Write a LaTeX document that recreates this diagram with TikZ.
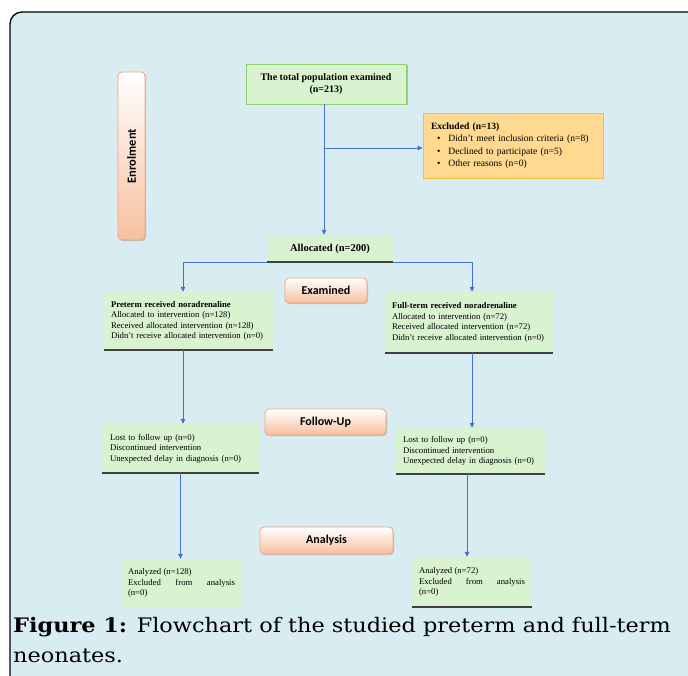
\documentclass[tikz,border=0pt]{standalone}
\usepackage{fontspec}
\setmainfont{Liberation Serif}
\newfontfamily\secfont{Carlito}
\newfontfamily\capfont[FakeStretch=1.12]{DejaVu Serif}
\usetikzlibrary{shadows,arrows.meta}
\definecolor{bgblue}{RGB}{216,236,241}
\definecolor{boxgreen}{RGB}{217,242,208}
\definecolor{greenborder}{RGB}{140,210,110}
\definecolor{exclfill}{RGB}{255,217,143}
\definecolor{exclborder}{RGB}{245,190,60}
\definecolor{peach}{RGB}{247,192,160}
\definecolor{peachborder}{RGB}{238,165,120}
\definecolor{linkblue}{RGB}{68,114,196}
\definecolor{darkline}{RGB}{64,64,64}
\tikzset{
  greenbox/.style={fill=boxgreen, inner ysep=0pt, align=left, font=\fontsize{8.7}{10.6}\selectfont},
  secbox/.style={draw=peachborder, line width=0.8pt, rounded corners=4pt, top color=white, bottom color=peach,
     drop shadow={shadow xshift=1pt, shadow yshift=-1.2pt, fill=gray!60, opacity=0.7},
     font=\secfont\bfseries\fontsize{12}{14}\selectfont, inner sep=0pt},
  arr/.style={draw=linkblue, line width=0.8pt, -{Triangle[length=5pt,width=4.5pt]}},
  baseline/.style={draw=darkline, line width=1.6pt},
}
\begin{document}
\begin{tikzpicture}[x=1pt,y=-1pt]
\useasboundingbox (0,0) rectangle (688,676);
\fill[white] (0,0) rectangle (688,676);
\fill[bgblue, rounded corners=12pt] (10,700) -- (10,12) -- (700,12) -- (700,700) -- cycle;
\draw[black, line width=1.3pt, rounded corners=12pt] (10,700) -- (10,12) -- (700,12);

% section labels
\node[secbox, minimum width=27pt, minimum height=168pt] (enrol) at (131.5,156) {};
\node[rotate=90, font=\secfont\bfseries\fontsize{12.5}{14}\selectfont] (enroltxt) at (enrol.center) {Enrolment};
\node[secbox, minimum width=82pt, minimum height=25pt] (exam) at (326,290.5) {Examined};
\node[secbox, minimum width=121pt, minimum height=26pt] (follow) at (325.5,422) {Follow-Up};
\node[secbox, minimum width=133pt, minimum height=27pt] (analysis) at (326.5,540.5) {Analysis};

% boxes
\node[greenbox, draw=greenborder, line width=0.8pt, align=center, font=\bfseries\fontsize{10}{12.5}\selectfont,
      minimum width=160pt, minimum height=40pt,
      drop shadow={shadow xshift=1.5pt, shadow yshift=-1.5pt, fill=gray!70, opacity=0.8}] (total) at (326,84)
      {The total population examined\\(n=213)};
\node[fill=exclfill, draw=exclborder, line width=0.8pt, inner xsep=8pt, inner ysep=0pt, text width=164pt,
      minimum height=65pt, align=left, font=\fontsize{9.6}{12.4}\selectfont] (excl) at (513,145.5)
      {\textbf{Excluded (n=13)}\\
       \hspace*{6pt}\textbullet\hspace{8pt}Didn’t meet inclusion criteria (n=8)\\
       \hspace*{6pt}\textbullet\hspace{8pt}Declined to participate (n=5)\\
       \hspace*{6pt}\textbullet\hspace{8pt}Other reasons (n=0)};
\node[greenbox, align=center, font=\bfseries\fontsize{10.5}{12}\selectfont, minimum width=126pt, minimum height=27pt] (alloc) at (330,248.5) {Allocated (n=200)};

\node[greenbox, inner xsep=7pt, text width=155pt, minimum height=58pt] (pre) at (188.5,321)
  {\textbf{Preterm received noradrenaline}\\Allocated to intervention (n=128)\\Received allocated intervention (n=128)\\Didn’t receive allocated intervention (n=0)};
\node[greenbox, inner xsep=7pt, text width=154pt, minimum height=61pt] (full) at (469,322.5)
  {\textbf{Full-term received noradrenaline}\\Allocated to intervention (n=72)\\Received allocated intervention (n=72)\\Didn’t receive allocated intervention (n=0)};

\node[greenbox, inner xsep=8pt, text width=141pt, minimum height=49pt] (fl) at (180.5,448.5)
  {Lost to follow up (n=0)\\Discontinued intervention\\Unexpected delay in diagnosis (n=0)};
\node[greenbox, inner xsep=7pt, text width=135pt, minimum height=46pt] (fr) at (470.5,451)
  {Lost to follow up (n=0)\\Discontinued intervention\\Unexpected delay in diagnosis (n=0)};

\node[greenbox, inner xsep=7pt, text width=107pt, minimum height=48pt, align=justify] (al) at (181.5,583)
  {Analyzed (n=128)\par Excluded from analysis\linebreak (n=0)};
\node[greenbox, inner xsep=7pt, text width=106pt, minimum height=50pt, align=justify] (ar) at (472,582)
  {Analyzed (n=72)\par Excluded from analysis\linebreak (n=0)};

% dark bottom lines
\draw[baseline] (alloc.south west) -- (alloc.south east);
\draw[baseline] (pre.south west) -- (pre.south east);
\draw[baseline] (full.south west) -- (full.south east);
\draw[baseline] (fl.south west) -- (fl.south east);
\draw[baseline] (fr.south west) -- (fr.south east);
\draw[baseline] (ar.south west) -- (ar.south east);

% connectors
\draw[arr] ([xshift=-2pt]total.south) -- ([xshift=-2pt]total.south |- alloc.north);
\draw[arr] ([xshift=-2pt]total.south |- 0,148) -- (excl.west |- 0,148);
\draw[arr] (alloc.south west) -| ([xshift=-5.5pt]pre.north);
\draw[arr] (alloc.south east) -| ([xshift=3pt]full.north);
\draw[arr] ([xshift=-5.5pt]pre.south) -- ([xshift=-5.5pt]pre.south |- fl.north);
\draw[arr] ([xshift=3pt]full.south) -- ([xshift=3pt]full.south |- fr.north);
\draw[arr] (fl.south) -- (fl.south |- al.north);
\draw[arr] ([xshift=-3.5pt]fr.south) -- ([xshift=-3.5pt]fr.south |- ar.north);

% caption
\node[anchor=base west, inner sep=0pt, font=\capfont\fontsize{20}{24}\selectfont] (cap1) at (13,632)
  {\textbf{Figure 1:} Flowchart of the studied preterm and full-term};
\node[anchor=base west, inner sep=0pt, font=\capfont\fontsize{20}{24}\selectfont] (cap2) at (13,662)
  {neonates.};
\end{tikzpicture}
\end{document}
